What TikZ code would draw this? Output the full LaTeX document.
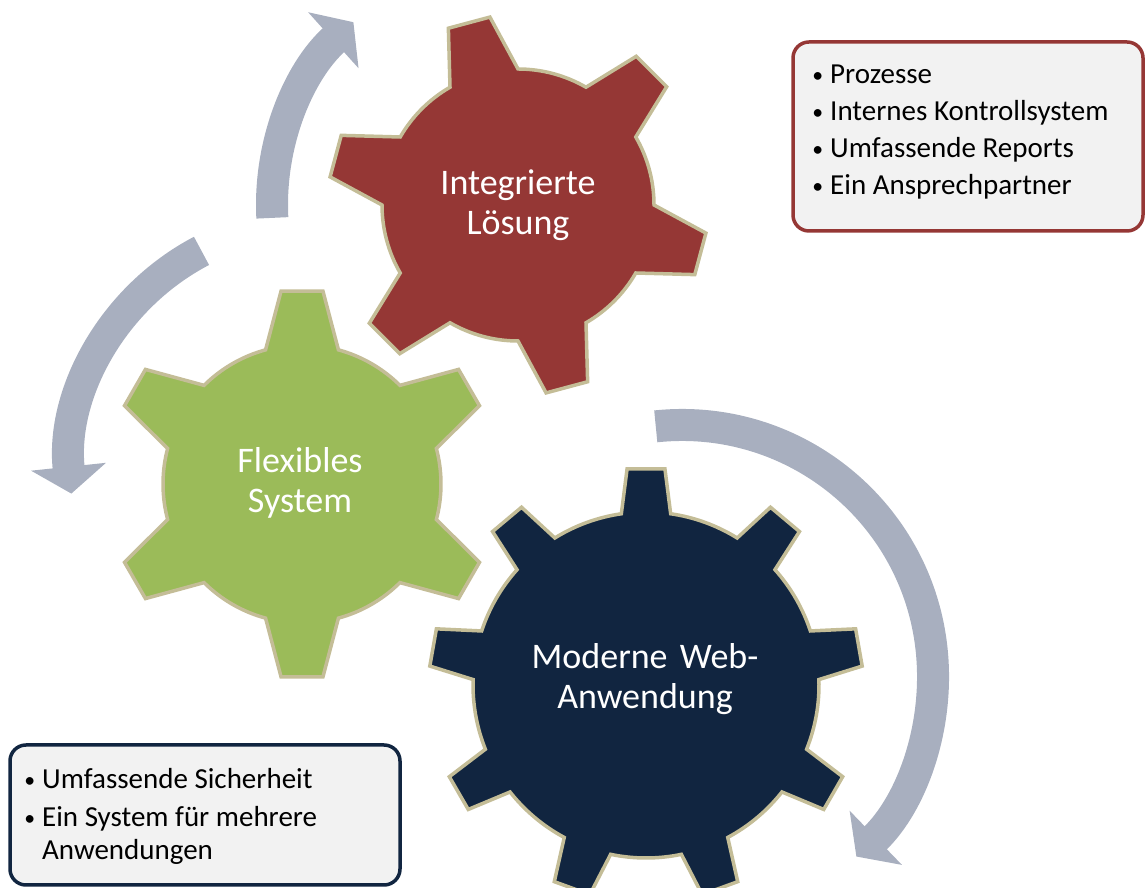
\documentclass[tikz,border=0pt]{standalone}
\usepackage{fontspec}
\usepackage{graphicx}
\setmainfont{Carlito}
\usetikzlibrary{arrows.meta,calc}

\definecolor{zahnrot}{RGB}{149,55,53}
\definecolor{zahngruen}{RGB}{155,187,89}
\definecolor{zahnblau}{RGB}{17,37,64}
\definecolor{zahnrand}{RGB}{196,189,151}
\definecolor{pfeilgrau}{RGB}{168,175,191}
\definecolor{kastengrau}{RGB}{242,242,242}

% #2 centre, #3 first tooth, #4 second tooth, #5 last tooth,
% #6 inner radius, #7 outer radius, #8 half angle at base, #9 half angle at tip
\newcommand{\zahnrad}[9][]{%
  \path[shift={(#2)}, draw=zahnrand, line width=3.5pt, #1] (#3-#8:#6)
    \foreach \a in {#3,#4,...,#5} {
      -- (\a-#9:#7) -- (\a+#9:#7) -- (\a+#8:#6)
      arc[start angle=\a+#8, end angle=\a+#4-#3-#8, radius=#6]
    } -- cycle;}
\newcommand{\aufz}{\makebox[0pt][r]{\raisebox{1.5pt}{\scalebox{0.75}{\textbullet}}\hspace{7pt}}}

\begin{document}
\begin{tikzpicture}[x=1pt, y=1pt]
    \tikzstyle{kreispfeil} = [line width=32pt, draw=pfeilgrau, -{Triangle[width=74pt, length=27pt]}]
    \tikzstyle{zahntext} = [text=white, align=center, font=\fontsize{36}{40}\selectfont]
    \tikzstyle{kasten} = [rounded corners=16pt, fill=kastengrau, line width=3.5pt]
    \tikzstyle{zeile} = [anchor=base west, inner sep=0pt, font=\fontsize{29}{33}\selectfont]
    \useasboundingbox (0,0) rectangle (1145,888);

    \coordinate (mr) at (518,683);
    \coordinate (mg) at (302,404);
    \coordinate (mb) at (646,203);
    \coordinate (pg) at (315,420);
    \coordinate (pb) at (682,212);

    % arrows round the gears
    \draw[kreispfeil] ($(mr)+(183:246)$) arc[start angle=183, end angle=132, radius=246];
    \draw[kreispfeil] ($(pg)+(117.6:245)$) arc[start angle=117.6, end angle=186, radius=245];
    \draw[kreispfeil] ($(pb)+(96:251)$) arc[start angle=96, end angle=-46, radius=251];

    % gears
    \zahnrad[fill=zahnrot]{518,683}{45}{105}{345}{136}{190}{15}{6.5}
    \zahnrad[fill=zahngruen]{302,404}{30}{90}{330}{139}{194}{15.2}{6.2}
    \zahnrad[fill=zahnblau]{646,203}{10}{50}{330}{173}{217}{8.2}{5}

    \node[zahntext] (loesung) at (518,683) {Integrierte\\Lösung};
    \node[zahntext] (flexibel) at (300,405) {Flexibles\\System};
    \node[zahntext] (web) at (645,209) {Moderne\hspace{4pt} Web-\\Anwendung};

    % boxes
    \draw[kasten, draw=zahnrot] (793,846) rectangle (1143,657);
    \node[zeile] (p1) at (830,804) {\aufz Prozesse};
    \node[zeile] (p2) at (830,767) {\aufz Internes Kontrollsystem};
    \node[zeile] (p3) at (830,730) {\aufz Umfassende Reports};
    \node[zeile] (p4) at (830,693) {\aufz Ein Ansprechpartner};

    \draw[kasten, draw=zahnblau] (10,143) rectangle (400,3);
    \node[zeile] (s1) at (42,99) {\aufz Umfassende Sicherheit};
    \node[zeile] (s2) at (42,61) {\aufz Ein System für mehrere};
    \node[zeile] (s3) at (42,28) {Anwendungen};
\end{tikzpicture}
\end{document}
